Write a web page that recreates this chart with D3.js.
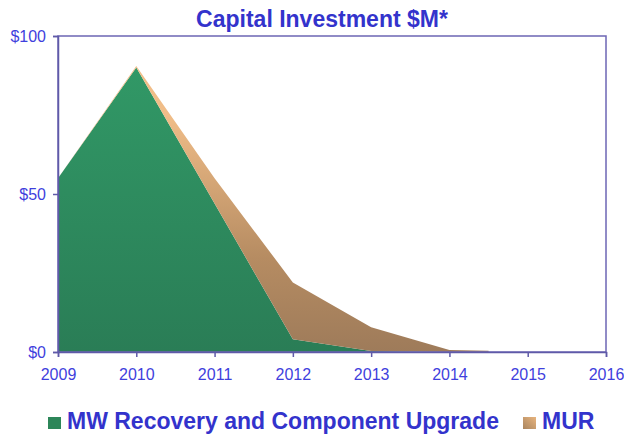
<!DOCTYPE html>
<meta charset="utf-8">
<style>
    body { margin: 0; background: #fff; }
    .title { font-family: "Liberation Sans", Arial, sans-serif; font-weight: bold; font-size: 23px; fill: #3333cc; }
    .axis text { font-family: "Liberation Sans", Arial, sans-serif; font-size: 16px; fill: #3f3fdd; }
    .axis path, .axis line { stroke: #5f5aa8; stroke-width: 1.5px; }
    .frame { fill: none; stroke: #6c66b4; stroke-width: 1.5px; }
    .legend text { font-family: "Liberation Sans", Arial, sans-serif; font-weight: bold; font-size: 23px; fill: #3333cc; }
</style>
<svg width="624" height="437"></svg>
<script src="https://d3js.org/d3.v7.min.js"></script>
<script>

    // values, $M
    var years = [2009, 2010, 2011, 2012, 2013, 2014, 2014.5, 2014.5, 2015, 2016];
    var mwRecovery = [55, 90, 47, 4, 0.3, 0, 0, 0, 0, 0];
    var mur = [0, 0.5, 8, 18, 7.5, 0.6, 0.4, 0, 0, 0];
    var seriesNames = ["MW Recovery and Component Upgrade", "MUR"];
    var xTicks = [2009, 2010, 2011, 2012, 2013, 2014, 2015, 2016];
    var yTicks = [0, 50, 100];

    var svg = d3.select("svg"),
            margin = {top: 36, right: 18, bottom: 85, left: 58},
            width = +svg.attr("width") - margin.left - margin.right,
            height = +svg.attr("height") - margin.top - margin.bottom;

    var rows = years.map(function(y, i) {
        return {year: y, mw: mwRecovery[i], mur: mur[i]};
    });

    var x = d3.scaleLinear().domain([2009, 2016]).range([0, width]);
    var y = d3.scaleLinear().domain([0, 100]).range([height, 0]);

    var stack = d3.stack().keys(["mw", "mur"]);
    var layers = stack(rows);

    var defs = svg.append("defs");
    var gradGreen = defs.append("linearGradient").attr("id", "gGreen")
            .attr("gradientUnits", "userSpaceOnUse")
            .attr("x1", 0).attr("x2", 0).attr("y1", y(90)).attr("y2", y(0));
    gradGreen.append("stop").attr("offset", 0).attr("stop-color", "#319866");
    gradGreen.append("stop").attr("offset", 1).attr("stop-color", "#2a7d56");

    var gradTan = defs.append("linearGradient").attr("id", "gTan")
            .attr("gradientUnits", "userSpaceOnUse")
            .attr("x1", 0).attr("x2", 0).attr("y1", y(75)).attr("y2", y(0));
    gradTan.append("stop").attr("offset", 0).attr("stop-color", "#f0bd88");
    gradTan.append("stop").attr("offset", 0.6).attr("stop-color", "#b68c62");
    gradTan.append("stop").attr("offset", 1).attr("stop-color", "#9e7b5a");

    var keyTan = defs.append("linearGradient").attr("id", "kTan")
            .attr("x1", 1).attr("y1", 0).attr("x2", 0).attr("y2", 1);
    keyTan.append("stop").attr("offset", 0).attr("stop-color", "#e8b47e");
    keyTan.append("stop").attr("offset", 1).attr("stop-color", "#a9855f");

    var fills = ["url(#gGreen)", "url(#gTan)"];
    var keyFills = ["#2d8659", "url(#kTan)"];

    var g = svg.append("g").attr("transform", "translate(" + margin.left + "," + margin.top + ")");

    var area = d3.area()
            .x(function(d) { return x(d.data.year); })
            .y0(function(d) { return y(d[0]); })
            .y1(function(d) { return y(d[1]); });

    g.selectAll(".layer")
            .data(layers)
            .enter().append("path")
            .attr("class", "layer")
            .attr("fill", function(d, i) { return fills[i]; })
            .attr("d", area);

    g.append("rect").attr("class", "frame")
            .attr("x", 0).attr("y", 0)
            .attr("width", width).attr("height", height);

    g.append("g").attr("class", "axis")
            .attr("transform", "translate(0," + height + ")")
            .call(d3.axisBottom(x).tickValues(xTicks).tickFormat(d3.format("d")).tickSize(5).tickPadding(12));

    g.append("g").attr("class", "axis")
            .call(d3.axisLeft(y).tickValues(yTicks).tickFormat(function(d) { return "$" + d; }).tickSize(5).tickPadding(7));

    svg.append("text").attr("class", "title")
            .attr("x", 322).attr("y", 27)
            .attr("text-anchor", "middle")
            .text("Capital Investment $M*");

    var legend = svg.append("g").attr("class", "legend");
    var legendX = [48, 523];
    seriesNames.forEach(function(name, i) {
        legend.append("rect")
                .attr("x", legendX[i]).attr("y", 417)
                .attr("width", 13).attr("height", 12)
                .attr("fill", keyFills[i]);
        legend.append("text")
                .attr("x", legendX[i] + 19).attr("y", 429)
                .text(name);
    });

</script>
